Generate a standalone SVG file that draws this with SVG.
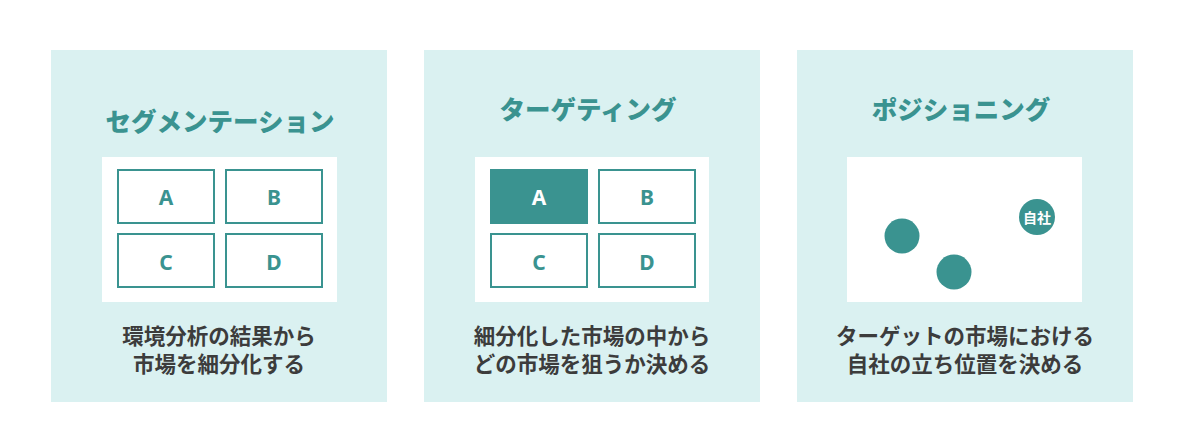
<svg xmlns="http://www.w3.org/2000/svg" width="1178" height="438" viewBox="0 0 1178 438">
<style>
.panel{fill:#daf1f1}
.white{fill:#ffffff}
.cell{fill:#ffffff;stroke:#3a9390;stroke-width:2}
.cellOn{fill:#3a9390;stroke:#3a9390;stroke-width:2}
.head{font-family:"Noto Sans CJK JP","Noto Sans",sans-serif;font-weight:900;font-size:25.5px;fill:#3a9390;text-anchor:middle;dominant-baseline:central}
.body{font-family:"Noto Sans CJK JP","Noto Sans",sans-serif;font-weight:bold;font-size:21.5px;fill:#3c3c3c;text-anchor:middle;dominant-baseline:central}
.lbl{font-family:"Noto Sans","Liberation Sans",sans-serif;font-weight:bold;font-size:21px;fill:#3a9390;text-anchor:middle;dominant-baseline:central}
.lblOn{font-family:"Noto Sans","Liberation Sans",sans-serif;font-weight:bold;font-size:21px;fill:#ffffff;text-anchor:middle;dominant-baseline:central}
.dot{fill:#3a9390}
.dotTxt{font-family:"Noto Sans CJK JP",sans-serif;font-weight:bold;font-size:14px;fill:#ffffff;text-anchor:middle;dominant-baseline:central}
</style>
<rect width="1178" height="438" fill="#ffffff"/>
<g id="segmentation">
<rect class="panel" x="51" y="50" width="336" height="352"/>
<text class="head" x="220" y="119">セグメンテーション</text>
<rect class="white" x="102" y="157" width="235" height="145"/>
<rect class="cell" x="118" y="170" width="96" height="53"/>
<text class="lbl" x="166" y="197">A</text>
<rect class="cell" x="226" y="170" width="96" height="53"/>
<text class="lbl" x="274" y="197">B</text>
<rect class="cell" x="118" y="234" width="96" height="53"/>
<text class="lbl" x="166" y="262">C</text>
<rect class="cell" x="226" y="234" width="96" height="53"/>
<text class="lbl" x="274" y="262">D</text>
<text class="body" x="219" y="334">環境分析の結果から</text>
<text class="body" x="219" y="362">市場を細分化する</text>
</g>
<g id="targeting">
<rect class="panel" x="424" y="50" width="336" height="352"/>
<text class="head" x="588" y="107">ターゲティング</text>
<rect class="white" x="475" y="157" width="234" height="145"/>
<rect class="cellOn" x="491" y="170" width="96" height="53"/>
<text class="lblOn" x="539" y="197">A</text>
<rect class="cell" x="599" y="170" width="96" height="53"/>
<text class="lbl" x="647" y="197">B</text>
<rect class="cell" x="491" y="234" width="96" height="53"/>
<text class="lbl" x="539" y="262">C</text>
<rect class="cell" x="599" y="234" width="96" height="53"/>
<text class="lbl" x="647" y="262">D</text>
<text class="body" x="592" y="334">細分化した市場の中から</text>
<text class="body" x="592" y="362">どの市場を狙うか決める</text>
</g>
<g id="positioning">
<rect class="panel" x="797" y="50" width="336" height="352"/>
<text class="head" x="961" y="107">ポジショニング</text>
<rect class="white" x="847" y="157" width="235" height="145"/>
<circle class="dot" cx="902" cy="236" r="17.5"/>
<circle class="dot" cx="954" cy="272" r="17.5"/>
<circle class="dot" cx="1037" cy="217" r="18"/>
<text class="dotTxt" x="1037" y="217">自社</text>
<text class="body" x="965" y="334">ターゲットの市場における</text>
<text class="body" x="965" y="362">自社の立ち位置を決める</text>
</g>
<g id="connectors"></g>
</svg>
